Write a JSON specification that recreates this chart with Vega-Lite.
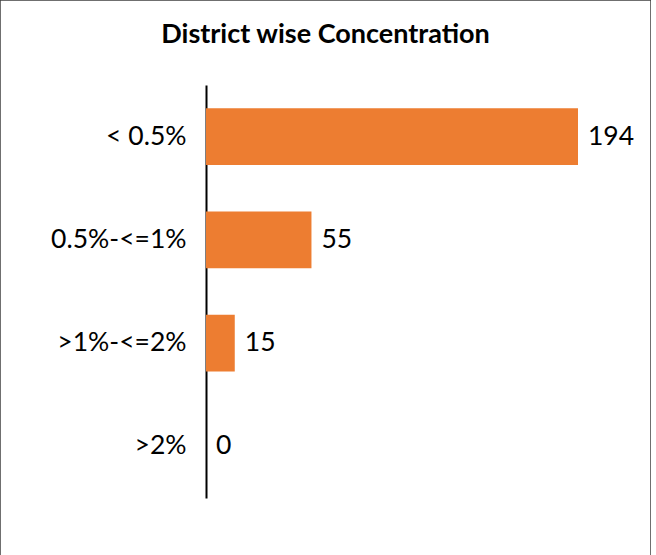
{
  "$schema": "https://vega.github.io/schema/vega-lite/v6.json",
  "width": 651,
  "height": 557,
  "padding": 0,
  "autosize": {"type": "none"},
  "background": "white",
  "config": {"view": {"stroke": "#404040", "strokeWidth": 1.5}},
  "title": {
    "text": "District wise Concentration",
    "anchor": "middle",
    "frame": "group",
    "font": "Lato",
    "fontSize": 27,
    "fontWeight": "bold",
    "color": "#000000",
    "baseline": "alphabetic",
    "offset": -45,
    "dy": 25
  },
  "data": {
    "values": [
      {"category": "< 0.5%", "count": 194},
      {"category": "0.5%-<=1%", "count": 55},
      {"category": ">1%-<=2%", "count": 15},
      {"category": ">2%", "count": 0}
    ]
  },
  "encoding": {
    "y": {
      "field": "category",
      "type": "nominal",
      "sort": null,
      "scale": {"range": [85, 498], "paddingInner": 0.45, "paddingOuter": 0.225},
      "axis": {
        "title": null,
        "orient": "left",
        "offset": -206,
        "ticks": false,
        "tickSize": 0,
        "labelPadding": 20,
        "labelFont": "Lato",
        "labelFontSize": 26.5,
        "labelColor": "#000000",
        "domainColor": "#000000",
        "domainWidth": 2
      }
    },
    "x": {
      "field": "count",
      "type": "quantitative",
      "scale": {"domain": [-107.43, 232.07], "nice": false, "zero": false},
      "axis": null
    }
  },
  "layer": [
    {
      "mark": {"type": "bar", "color": "#ED7D31"},
      "encoding": {"x2": {"datum": 0}}
    },
    {
      "mark": {"type": "text", "align": "left", "baseline": "middle", "dx": 10, "font": "Lato", "fontSize": 26.5, "color": "#000000"},
      "encoding": {"text": {"field": "count", "type": "quantitative"}}
    }
  ]
}
